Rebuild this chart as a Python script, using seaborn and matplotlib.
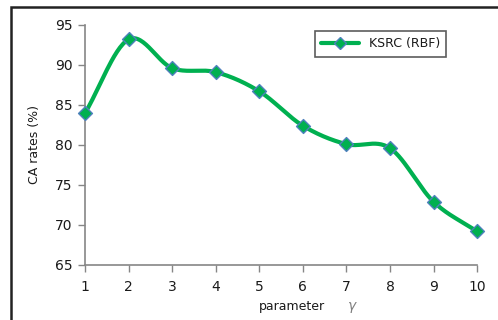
import numpy as np
import pandas as pd
import matplotlib
matplotlib.use("Agg")
import matplotlib.pyplot as plt
from matplotlib.patches import Rectangle
from matplotlib.lines import Line2D
import seaborn as sns

# gamma parameter values and classification accuracy rates
gamma = [1, 2, 3, 4, 5, 6, 7, 8, 9, 10]
ca_rates = [84.0, 93.2, 89.6, 89.1, 86.7, 82.4, 80.1, 79.6, 72.9, 69.2]
series_name = "KSRC (RBF)"
y_ticks = [65, 70, 75, 80, 85, 90, 95]

sns.set_theme(style="white")
plt.rcParams["font.family"] = ["DejaVu Sans"]

line_color = "#00B050"
edge_color = "#4F81BD"
text_color = "#1a1a1a"
spine_color = "#868686"


def smooth_curve(x, y, n=30):
    """Catmull-Rom style smoothing between consecutive points."""
    x = np.asarray(x, float)
    y = np.asarray(y, float)
    px = np.concatenate([[2 * x[0] - x[1]], x, [2 * x[-1] - x[-2]]])
    py = np.concatenate([[2 * y[0] - y[1]], y, [2 * y[-1] - y[-2]]])
    xs, ys = [], []
    for i in range(1, len(px) - 2):
        t = np.linspace(0, 1, n, endpoint=(i == len(px) - 3))
        p0, p1, p2, p3 = (np.array([px[j], py[j]]) for j in range(i - 1, i + 3))
        t2, t3 = t * t, t * t * t
        pts = 0.5 * ((2 * p1)[:, None] + (-p0 + p2)[:, None] * t
                     + (2 * p0 - 5 * p1 + 4 * p2 - p3)[:, None] * t2
                     + (-p0 + 3 * p1 - 3 * p2 + p3)[:, None] * t3)
        xs.append(pts[0])
        ys.append(pts[1])
    return np.concatenate(xs), np.concatenate(ys)


fig = plt.figure(figsize=(4.98, 3.2), dpi=100)
ax = fig.add_axes([0.171, 0.172, 0.787, 0.75])

sx, sy = smooth_curve(gamma, ca_rates)
curve = pd.DataFrame({"gamma": sx, "rate": sy})
points = pd.DataFrame({"gamma": gamma, "rate": ca_rates})

sns.lineplot(data=curve, x="gamma", y="rate", ax=ax, color=line_color,
             linewidth=3.0, sort=False, zorder=2)
sns.scatterplot(data=points, x="gamma", y="rate", ax=ax, marker="D", s=50,
                color=line_color, edgecolor=edge_color, linewidth=1.0, zorder=3,
                clip_on=False)

ax.set_xlim(1, 10)
ax.set_ylim(65, 95)
ax.set_xticks(gamma)
ax.set_yticks(y_ticks)
ax.tick_params(axis="both", which="major", direction="out", length=5, width=1,
               color=spine_color, labelsize=10, labelcolor=text_color, pad=4,
               bottom=True, left=True)
ax.tick_params(axis="x", pad=6)
for side in ["top", "right"]:
    ax.spines[side].set_visible(False)
for side in ["left", "bottom"]:
    ax.spines[side].set_color(spine_color)
    ax.spines[side].set_linewidth(1.2)

ax.set_ylabel("CA rates (%)", fontsize=9, color=text_color, labelpad=10)
ax.set_xlabel("")
fig.text(0.653, 0.03, "parameter", fontsize=9, color=text_color, ha="right",
         va="baseline")
fig.text(0.707, 0.03, r"$\gamma$", fontsize=10, color="#808080", ha="center",
         va="baseline")

handle = Line2D([], [], color=line_color, linewidth=3.0, marker="D",
                markersize=6, markerfacecolor=line_color,
                markeredgecolor=edge_color)
leg = ax.legend([handle], [series_name], loc="upper left",
                bbox_to_anchor=(0.57, 1.0), frameon=True, fontsize=9,
                fancybox=False, handlelength=3.0, borderpad=0.5,
                labelcolor=text_color)
leg.get_frame().set_edgecolor("#333333")
leg.get_frame().set_linewidth(1.2)

# outer chart frame
fig.patches.append(Rectangle((11 / 498, -0.1), 1.2, 1 - 7 / 320 + 0.1,
                             transform=fig.transFigure, fill=False,
                             edgecolor="#222222", linewidth=1.8))

fig.savefig("out.png", dpi=100)
